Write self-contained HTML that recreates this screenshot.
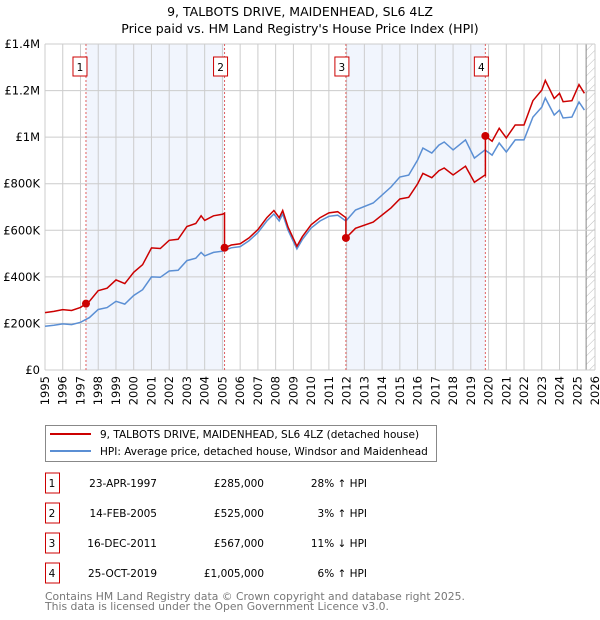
<!DOCTYPE html>
<html><head><meta charset="utf-8"><style>
body{margin:0;background:#fff;font-family:"DejaVu Sans","Liberation Sans",sans-serif;}
svg{display:block}
</style></head><body>
<svg id="c" width="600" height="620" xmlns="http://www.w3.org/2000/svg" font-family="DejaVu Sans, Liberation Sans, sans-serif">
<text x="300" y="16" font-size="12.5" text-anchor="middle">9, TALBOTS DRIVE, MAIDENHEAD, SL6 4LZ</text>
<text x="300" y="33" font-size="12.5" text-anchor="middle">Price paid vs. HM Land Registry's House Price Index (HPI)</text>
<g id="plot"></g>
<g>
<rect x="45.5" y="425.5" width="391" height="36" fill="#fff" stroke="#888"/>
<line x1="50" y1="434" x2="91" y2="434" stroke="#cc0000" stroke-width="2"/>
<text x="100" y="438" font-size="10.5">9, TALBOTS DRIVE, MAIDENHEAD, SL6 4LZ (detached house)</text>
<line x1="50" y1="451" x2="91" y2="451" stroke="#5b8fd4" stroke-width="2"/>
<text x="100" y="455" font-size="10.5">HPI: Average price, detached house, Windsor and Maidenhead</text>
</g>
<g id="table" font-size="10.5"></g>
<text x="45" y="600" font-size="10.8" fill="#777">Contains HM Land Registry data © Crown copyright and database right 2025.</text>
<text x="45" y="610" font-size="10.8" fill="#777">This data is licensed under the Open Government Licence v3.0.</text>
</svg>
<script>
const hpiYears=[1995,1995.5,1996,1996.5,1997,1997.5,1998,1998.5,1999,1999.5,2000,2000.5,2001,2001.5,2002,2002.5,2003,2003.5,2003.8,2004,2004.5,2005,2005.5,2006,2006.5,2007,2007.5,2007.9,2008.2,2008.4,2008.7,2009.2,2009.5,2010,2010.5,2011,2011.5,2011.96,2012.5,2013.5,2014.5,2015,2015.5,2016,2016.3,2016.8,2017.2,2017.5,2018,2018.7,2019.2,2019.8,2020.2,2020.6,2021,2021.5,2022,2022.5,2023,2023.2,2023.7,2024,2024.2,2024.7,2025.1,2025.4];
const hpiValues=[188,192,198,195,205,225,260,268,295,283,320,345,400,398,425,428,470,480,505,490,505,510,525,530,555,590,640,670,640,670,600,520,560,610,640,660,665,640,687,717,786,829,837,902,953,932,966,979,945,988,910,945,923,975,936,988,988,1086,1129,1168,1095,1116,1082,1086,1151,1116];
const saleYears=[1997.31,2005.12,2011.96,2019.82];
const salePrices=[285,525,567,1005];
const saleLabels=["1","2","3","4"];
const saleDates=["23-APR-1997","14-FEB-2005","16-DEC-2011","25-OCT-2019"];
const salePriceText=["£285,000","£525,000","£567,000","£1,005,000"];
const saleHpiText=["28% \u2191 HPI","3% \u2191 HPI","11% \u2193 HPI","6% \u2191 HPI"];
const yTicks=[0,200,400,600,800,1000,1200,1400];
const yTickLabels=["£0","£200K","£400K","£600K","£800K","£1M","£1.2M","£1.4M"];
const xTicks=[1995,1996,1997,1998,1999,2000,2001,2002,2003,2004,2005,2006,2007,2008,2009,2010,2011,2012,2013,2014,2015,2016,2017,2018,2019,2020,2021,2022,2023,2024,2025,2026];

const NS="http://www.w3.org/2000/svg";
const X0=45,X1=595,Y0=370,Y1=44;
const xs=y=>X0+(y-1995)/(2026-1995)*(X1-X0);
const ys=v=>Y0-v/1400*(Y0-Y1);
const plot=document.getElementById('plot');
function mk(tag,attrs,parent){const e=document.createElementNS(NS,tag);for(const k in attrs)e.setAttribute(k,attrs[k]);(parent||plot).appendChild(e);return e;}
function hpiAt(t){if(t<=hpiYears[0])return hpiValues[0];for(let i=1;i<hpiYears.length;i++){if(t<=hpiYears[i]){const f=(t-hpiYears[i-1])/(hpiYears[i]-hpiYears[i-1]);return hpiValues[i-1]+f*(hpiValues[i]-hpiValues[i-1]);}}return hpiValues[hpiValues.length-1];}

for(let i=0;i<saleYears.length;i+=2){
 const b=mk('rect',{x:xs(saleYears[i]),y:Y1,width:xs(saleYears[i+1])-xs(saleYears[i]),height:Y0-Y1,fill:'#eef3fc',opacity:0.8});
 
 
}
const defs=mk('defs',{});
const pat=mk('pattern',{id:'h',width:6,height:6,patternUnits:'userSpaceOnUse',patternTransform:'rotate(45)'},defs);
mk('line',{x1:0,y1:0,x2:0,y2:6,stroke:'#bbb','stroke-width':1},pat);
const hr=mk('rect',{x:xs(2025.5),y:Y1,width:X1-xs(2025.5),height:Y0-Y1,fill:'url(#h)'});


mk('line',{x1:xs(2025.5),y1:Y1,x2:xs(2025.5),y2:Y0,stroke:'#888','stroke-width':1});
xTicks.forEach(t=>{
 mk('line',{x1:xs(t),y1:Y1,x2:xs(t),y2:Y0,stroke:'#ccc','stroke-width':1});
 const tx=mk('text',{x:0,y:0,'font-size':11.5,'text-anchor':'end',transform:`translate(${xs(t)+4},${Y0+6}) rotate(-90)`});
 tx.textContent=t;
 
 
});
yTicks.forEach((t,i)=>{
 mk('line',{x1:X0,y1:ys(t),x2:X1,y2:ys(t),stroke:'#ccc','stroke-width':1});
 const tx=mk('text',{x:X0-5,y:ys(t)+4,'font-size':11.5,'text-anchor':'end'});
 tx.textContent=yTickLabels[i];
 
 
});
saleYears.forEach((s,i)=>{
 mk('line',{x1:xs(s),y1:Y1,x2:xs(s),y2:Y0,stroke:'#e06060','stroke-width':1,'stroke-dasharray':'2,2'});
 const cx=xs(s)-4-(i==0?2:0);
 const bx=mk('rect',{x:cx-7,y:57,width:14,height:19,fill:'#fff',stroke:'#cc0000'});
 
 
 const tl=mk('text',{x:cx,y:71,'font-size':10.5,'text-anchor':'middle'});
 tl.textContent=saleLabels[i];
 
 
});
const hp=hpiYears.map((t,i)=>xs(t).toFixed(1)+','+ys(hpiValues[i]).toFixed(1)).join(' ');
const hl=mk('polyline',{points:hp,fill:'none',stroke:'#5b8fd4','stroke-width':1.5});


let pts=[];
for(let k=0;k<=saleYears.length;k++){
 const si=Math.max(0,k-1);
 const ratio=salePrices[si]/hpiAt(saleYears[si]);
 const a=k==0?1995:saleYears[k-1], b=k==saleYears.length?2025.4:saleYears[k];
 const seg=[a].concat(hpiYears.filter(t=>t>a&&t<b)).concat([b]);
 seg.forEach(t=>pts.push(xs(t).toFixed(1)+','+ys(hpiAt(t)*ratio).toFixed(1)));
}
const pl=mk('polyline',{points:pts.join(' '),fill:'none',stroke:'#cc0000','stroke-width':1.5});


saleYears.forEach((s,i)=>{
 const d=mk('circle',{cx:xs(s),cy:ys(salePrices[i]),r:4,fill:'#cc0000'});
 
 
});
const tb=document.getElementById('table');
saleYears.forEach((s,i)=>{
 const y=483+i*30;
 const r=mk('rect',{x:45.5,y:y-10,width:14,height:20,fill:'#fff',stroke:'#cc0000'},tb);
 
 
 const cells=[[52,saleLabels[i],'middle'],[157,saleDates[i],'end'],[264,salePriceText[i],'end'],[367,saleHpiText[i],'end']];
 cells.forEach(c=>{
  const t=mk('text',{x:c[0],y:y+4,'text-anchor':c[2]},tb);
  t.textContent=c[1];
  
  
 });
});
</script>
</body></html>
